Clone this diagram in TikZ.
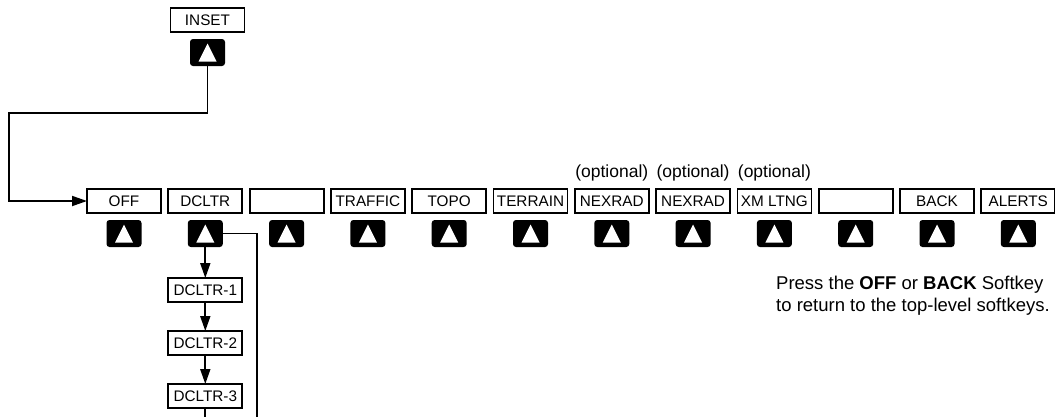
\documentclass[tikz,border=0pt]{standalone}
\usepackage{fontspec}
\setmainfont{Liberation Sans}
\usetikzlibrary{arrows.meta,positioning,calc}

\begin{document}
\begin{tikzpicture}[
    x=1pt, y=-1pt,
    softkey/.style={rectangle, draw=black, line width=1.8pt, fill=white,
                    minimum width=74pt, minimum height=24pt, inner sep=0pt,
                    outer sep=0pt, font=\fontsize{15.3}{18}\selectfont},
    softbtn/.style={rectangle, fill=black, rounded corners=3pt,
                    minimum width=35pt, minimum height=27pt, inner sep=0pt,
                    outer sep=0pt,
                    path picture={\fill[white, sharp corners]
                      ([yshift=9pt]path picture bounding box.center)
                      -- ++(-9pt,-18pt) -- ++(18pt,0pt) -- cycle;}},
    optlabel/.style={inner sep=1pt, font=\fontsize{17.5}{20}\selectfont},
    link/.style={line width=1.8pt},
    arrow/.style={link, -{Triangle[length=15pt,width=10pt]}},
    node distance=7pt and 7.3pt
  ]
  \clip (0,0) rectangle (1055,416);

  %% Inset softkey (top)
  \node[softkey] (inset) at (207.5,20) {INSET};
  \node[softbtn, below=of inset] (inset-btn) {};

  %% Map softkeys (row, left to right)
  \node[softkey] (off) at (124,201) {OFF};
  \node[softkey, right=of off] (dcltr) {DCLTR};
  \node[softkey, right=of dcltr] (blank1) {};
  \node[softkey, right=of blank1] (traffic) {TRAFFIC};
  \node[softkey, right=of traffic] (topo) {TOPO};
  \node[softkey, right=of topo] (terrain) {TERRAIN};
  \node[softkey, right=of terrain] (nexrad1) {NEXRAD};
  \node[softkey, right=of nexrad1] (nexrad2) {NEXRAD};
  \node[softkey, right=of nexrad2] (xmltng) {XM LTNG};
  \node[softkey, right=of xmltng] (blank2) {};
  \node[softkey, right=of blank2] (back) {BACK};
  \node[softkey, right=of back] (alerts) {ALERTS};

  %% Buttons under the softkeys
  \node[softbtn, below=of off] (off-btn) {};
  \node[softbtn, below=of dcltr] (dcltr-btn) {};
  \node[softbtn, below=of blank1] (blank1-btn) {};
  \node[softbtn, below=of traffic] (traffic-btn) {};
  \node[softbtn, below=of topo] (topo-btn) {};
  \node[softbtn, below=of terrain] (terrain-btn) {};
  \node[softbtn, below=of nexrad1] (nexrad1-btn) {};
  \node[softbtn, below=of nexrad2] (nexrad2-btn) {};
  \node[softbtn, below=of xmltng] (xmltng-btn) {};
  \node[softbtn, below=of blank2] (blank2-btn) {};
  \node[softbtn, below=of back] (back-btn) {};
  \node[softbtn, below=of alerts] (alerts-btn) {};

  %% Optional labels
  \node[optlabel, above=of nexrad1] {(optional)};
  \node[optlabel, above=of nexrad2] {(optional)};
  \node[optlabel, above=of xmltng] {(optional)};

  %% Declutter levels
  \node[softkey, below=31pt of dcltr-btn] (dcltr1) {DCLTR-1};
  \node[softkey, below=29pt of dcltr1] (dcltr2) {DCLTR-2};
  \node[softkey, below=29pt of dcltr2] (dcltr3) {DCLTR-3};

  %% Note
  \node[anchor=west, align=left, inner sep=0pt,
        font=\fontsize{18.5}{22}\selectfont] (note) at (776,296)
        {Press the \textbf{OFF} or \textbf{BACK} Softkey\\
         to return to the top-level softkeys.};

  %% Connectors
  \coordinate (turn) at (9,113);
  \draw[arrow] (inset-btn.south) |- (turn) |- (off.west);
  \draw[arrow] (dcltr-btn) -- (dcltr1);
  \draw[arrow] (dcltr1) -- (dcltr2);
  \draw[arrow] (dcltr2) -- (dcltr3);
  \path (dcltr3.south) ++(0,20) coordinate (exit-a);
  \draw[link] (dcltr3.south) -- (exit-a);
  \coordinate (exit-b) at (257,430);
  \draw[link] (dcltr-btn.east) -| (exit-b);

\end{tikzpicture}
\end{document}
